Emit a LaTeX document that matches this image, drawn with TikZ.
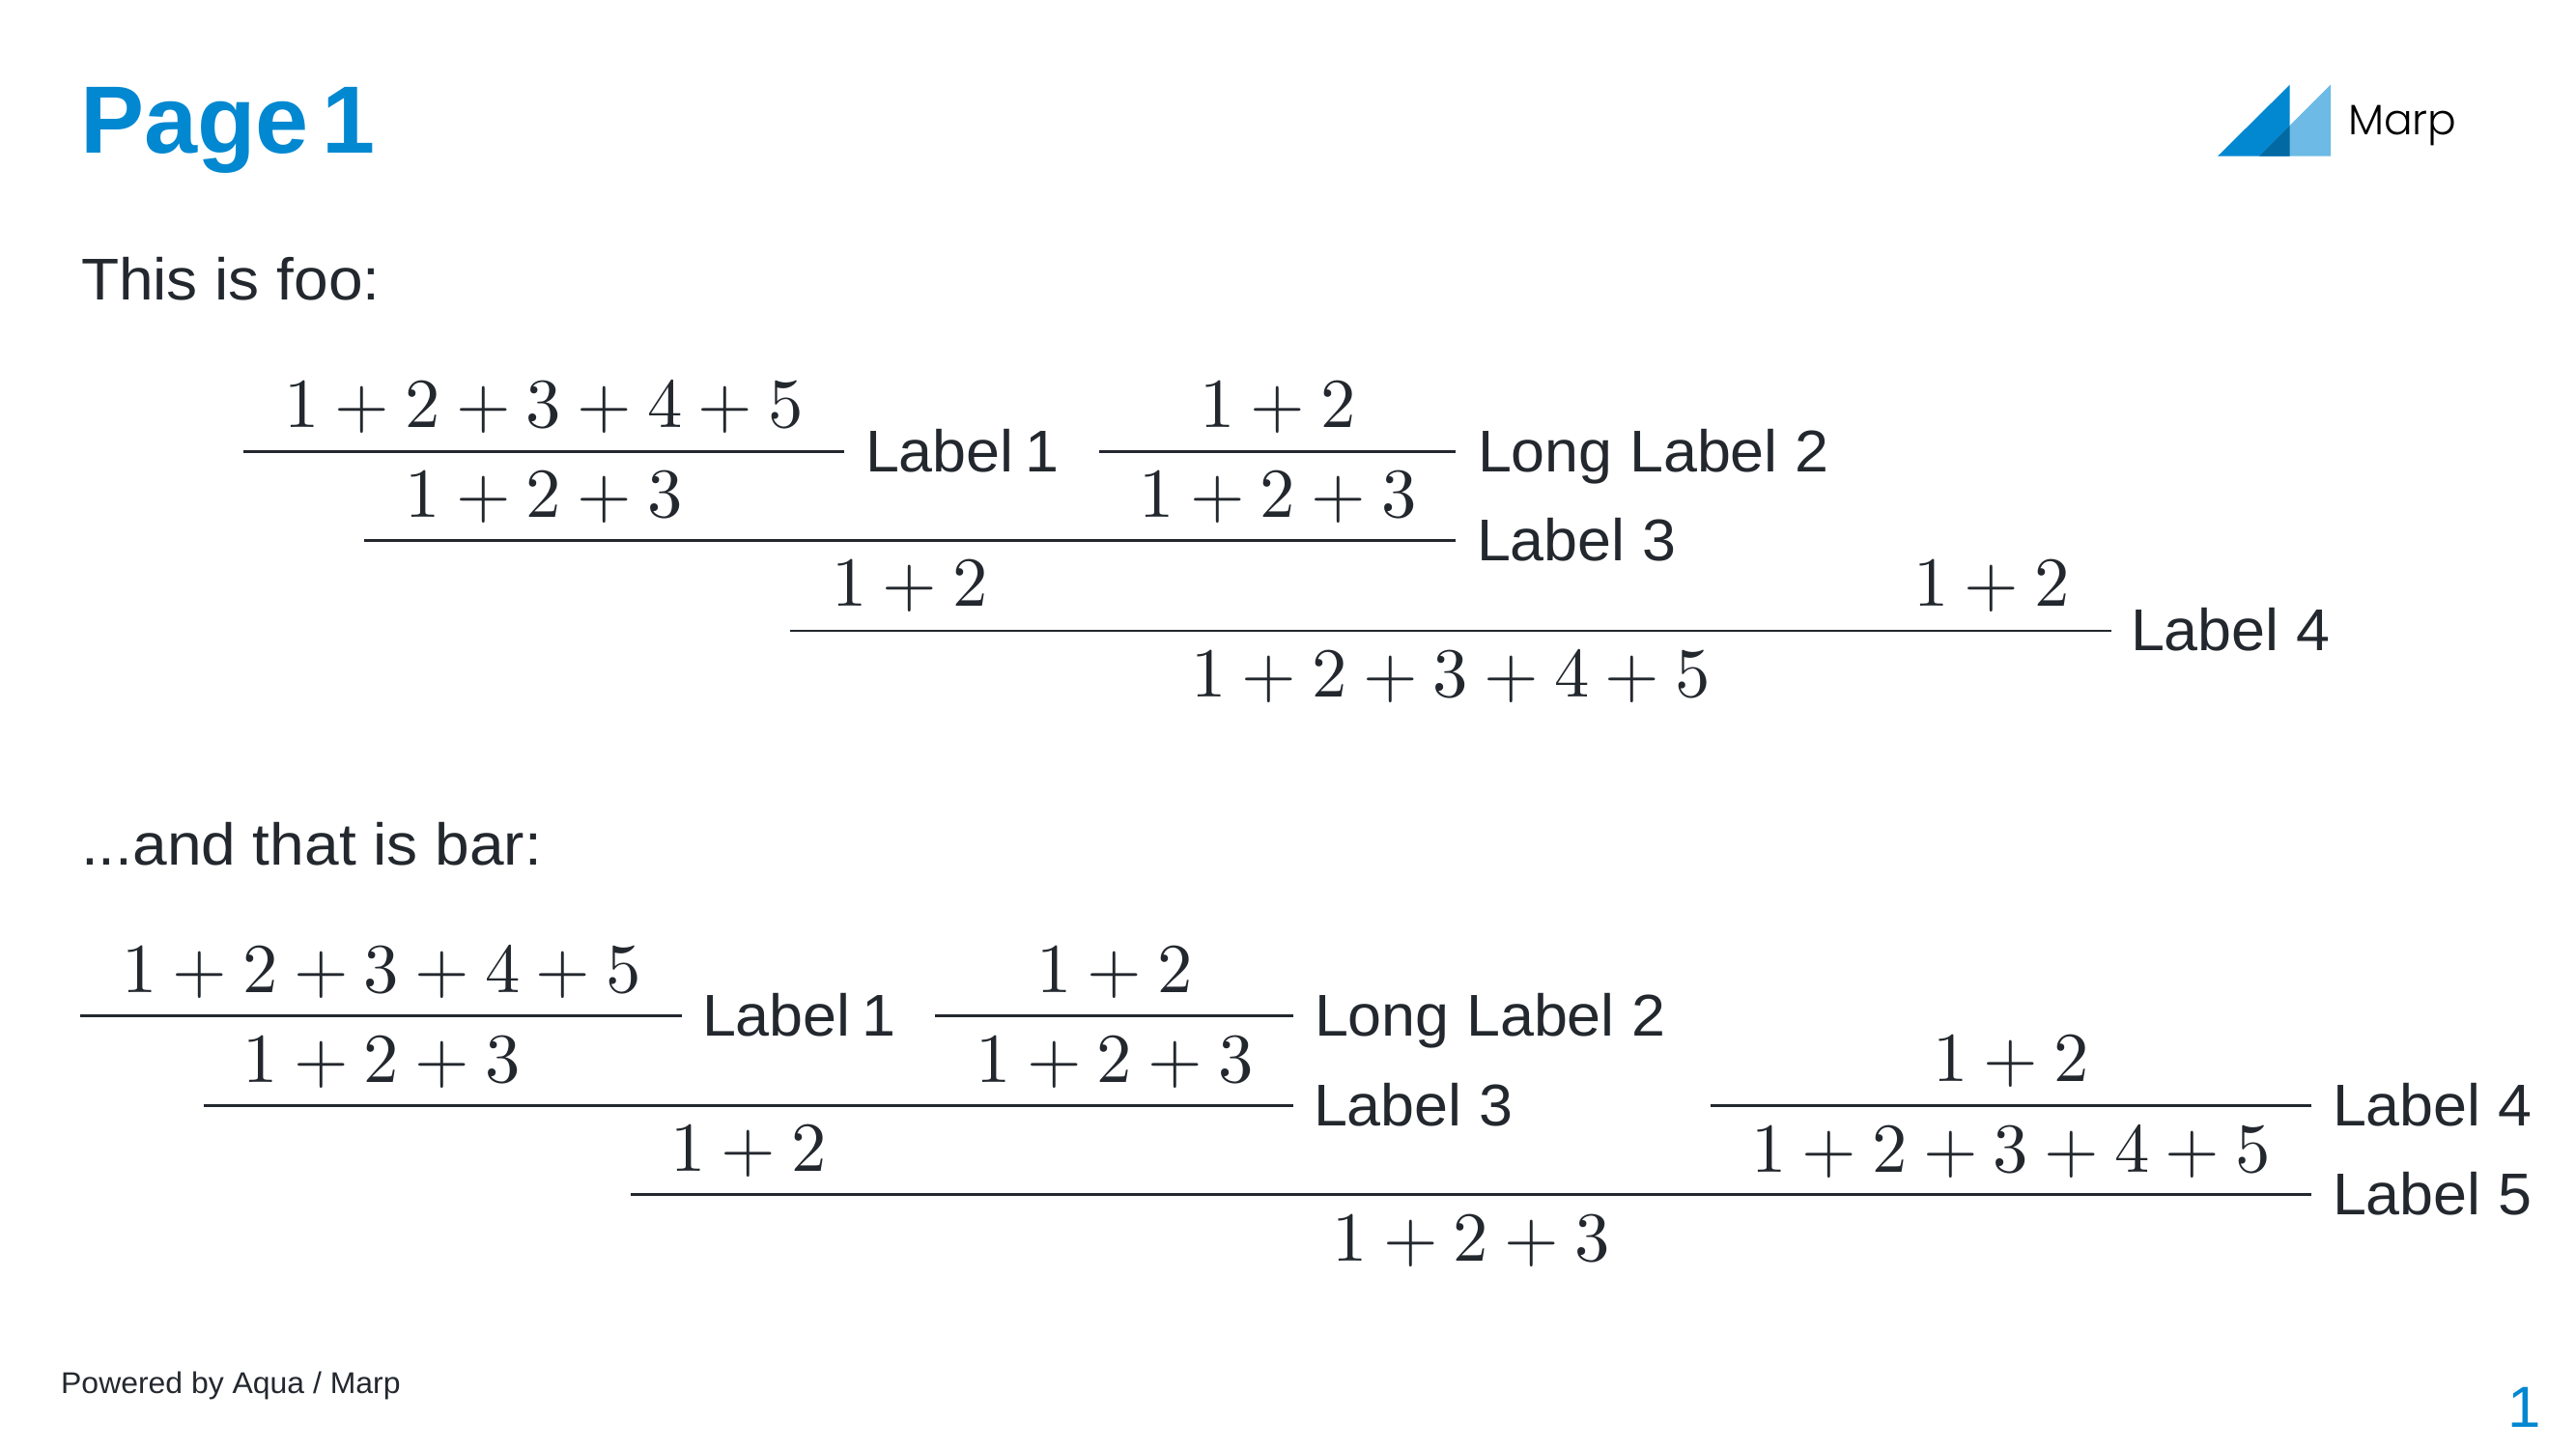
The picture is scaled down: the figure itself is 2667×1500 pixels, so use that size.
\documentclass[tikz,border=0pt]{standalone}
\usepackage[no-math]{fontspec}
\setmainfont[FakeStretch=1.03]{Liberation Sans}
\newfontfamily\widefont[FakeStretch=1.05]{Liberation Sans}
\newfontfamily\titlefont[WordSpace=0.5]{Liberation Sans Bold}
\newfontfamily\eqfont{lmroman10-regular.otf}
\newfontfamily\logofont{Poppins Light}
\definecolor{ink}{HTML}{23282E}
\definecolor{marpblue}{HTML}{0288D1}
\definecolor{marplight}{HTML}{6CBAE5}
\definecolor{marpdark}{HTML}{0369A3}
\newcommand{\bodysz}{\fontsize{61}{75}\selectfont}
\newcommand{\mathsz}{\eqfont\fontsize{72.7}{90}\selectfont}
\newcommand{\pl}{\hspace{.222em}+\hspace{.222em}}
\tikzset{
 x=1pt,y=-1pt,
 txt/.style={inner sep=0pt,outer sep=0pt,anchor=base west,text=ink,font=\bodysz},
 wtxt/.style={txt,font=\widefont\bodysz},
 eq/.style={inner sep=0pt,outer sep=0pt,anchor=base,text=ink,font=\mathsz},
 barline/.style={draw=ink,line width=2.4pt},
}
\newcommand{\ab}{1\pl2}
\newcommand{\abc}{1\pl2\pl3}
\newcommand{\abcde}{1\pl2\pl3\pl4\pl5}
\begin{document}
\begin{tikzpicture}
\useasboundingbox (0,0) rectangle (2667,1500);
\fill[white] (0,0) rectangle (2667,1500);
% logo
\fill[marpblue] (2296,161.7) -- (2370.7,87.7) -- (2370.7,161.7) -- cycle;
\fill[marplight] (2339,161.7) -- (2413,87.7) -- (2413,161.7) -- cycle;
\fill[marpdark] (2339,161.7) -- (2370.7,130) -- (2370.7,161.7) -- cycle;
\node[inner sep=0pt,anchor=base west,text=black,font=\logofont\fontsize{44}{50}\selectfont] (logo) at (2431,139) {Marp};
% title etc
\node[inner sep=0pt,anchor=base west,text=marpblue,font=\titlefont\fontsize{99}{120}\selectfont] (title) at (83,158) {Page 1};
\node[wtxt] (foo) at (84,310) {This is foo:};
\node[wtxt] (bar) at (84,895) {...and that is bar:};
\node[inner sep=0pt,anchor=base west,text=ink,font=\fontsize{31}{38}\selectfont] (foot) at (63,1442) {Powered by Aqua / Marp};
\node[inner sep=0pt,anchor=base east,text=marpblue,font=\fontsize{60}{75}\selectfont] (page) at (2631,1477) {1};
% first derivation
\coordinate (a1) at (252,467.5); \coordinate (a2) at (874,467.5);
\coordinate (b1) at (1138,467.5); \coordinate (b2) at (1507,467.5);
\coordinate (c1) at (377,559.5); \coordinate (c2) at (1507,559.5);
\coordinate (d1) at (818,653); \coordinate (d2) at (2186,653);
\draw[barline] (a1) -- (a2);
\draw[barline] (b1) -- (b2);
\draw[barline] (c1) -- (c2);
\draw[barline] (d1) -- (d2);
\node[eq] (n1) at (563,442) {\abcde};
\node[eq] (n2) at (563,535) {\abc};
\node[eq] (n3) at (1323,442) {\ab};
\node[eq] (n4) at (1323,535) {\abc};
\node[eq] (n5) at (942,627) {\ab};
\node[eq] (n6) at (2062,627) {\ab};
\node[eq] (n7) at (1502,721) {\abcde};
\node[txt] (l1) at (896,488) {Label{\kern-.09em} 1};
\node[txt] (l2) at (1530,488) {Long Label 2};
\node[txt] (l3) at (1529,580) {Label 3};
\node[txt] (l4) at (2206,673) {Label 4};
% second derivation
\coordinate (e1) at (83,1051.5); \coordinate (e2) at (706,1051.5);
\coordinate (f1) at (968,1051.5); \coordinate (f2) at (1339,1051.5);
\coordinate (g1) at (211,1144.5); \coordinate (g2) at (1339,1144.5);
\coordinate (h1) at (1771,1144.5); \coordinate (h2) at (2393,1144.5);
\coordinate (i1) at (653,1236.5); \coordinate (i2) at (2393,1236.5);
\draw[barline] (e1) -- (e2);
\draw[barline] (f1) -- (f2);
\draw[barline] (g1) -- (g2);
\draw[barline] (h1) -- (h2);
\draw[barline] (i1) -- (i2);
\node[eq] (m1) at (395,1027) {\abcde};
\node[eq] (m2) at (395,1120) {\abc};
\node[eq] (m3) at (1154,1027) {\ab};
\node[eq] (m4) at (1154,1120) {\abc};
\node[eq] (m5) at (775,1212.5) {\ab};
\node[eq] (m6) at (2082,1119.5) {\ab};
\node[eq] (m7) at (2082,1213) {\abcde};
\node[eq] (m8) at (1523,1305) {\abc};
\node[txt] (k1) at (727,1072) {Label{\kern-.09em} 1};
\node[txt] (k2) at (1361,1072) {Long Label 2};
\node[txt] (k3) at (1360,1165.5) {Label 3};
\node[txt] (k4) at (2415,1165.5) {Label 4};
\node[txt] (k5) at (2415,1257) {Label 5};
\end{tikzpicture}
\end{document}
